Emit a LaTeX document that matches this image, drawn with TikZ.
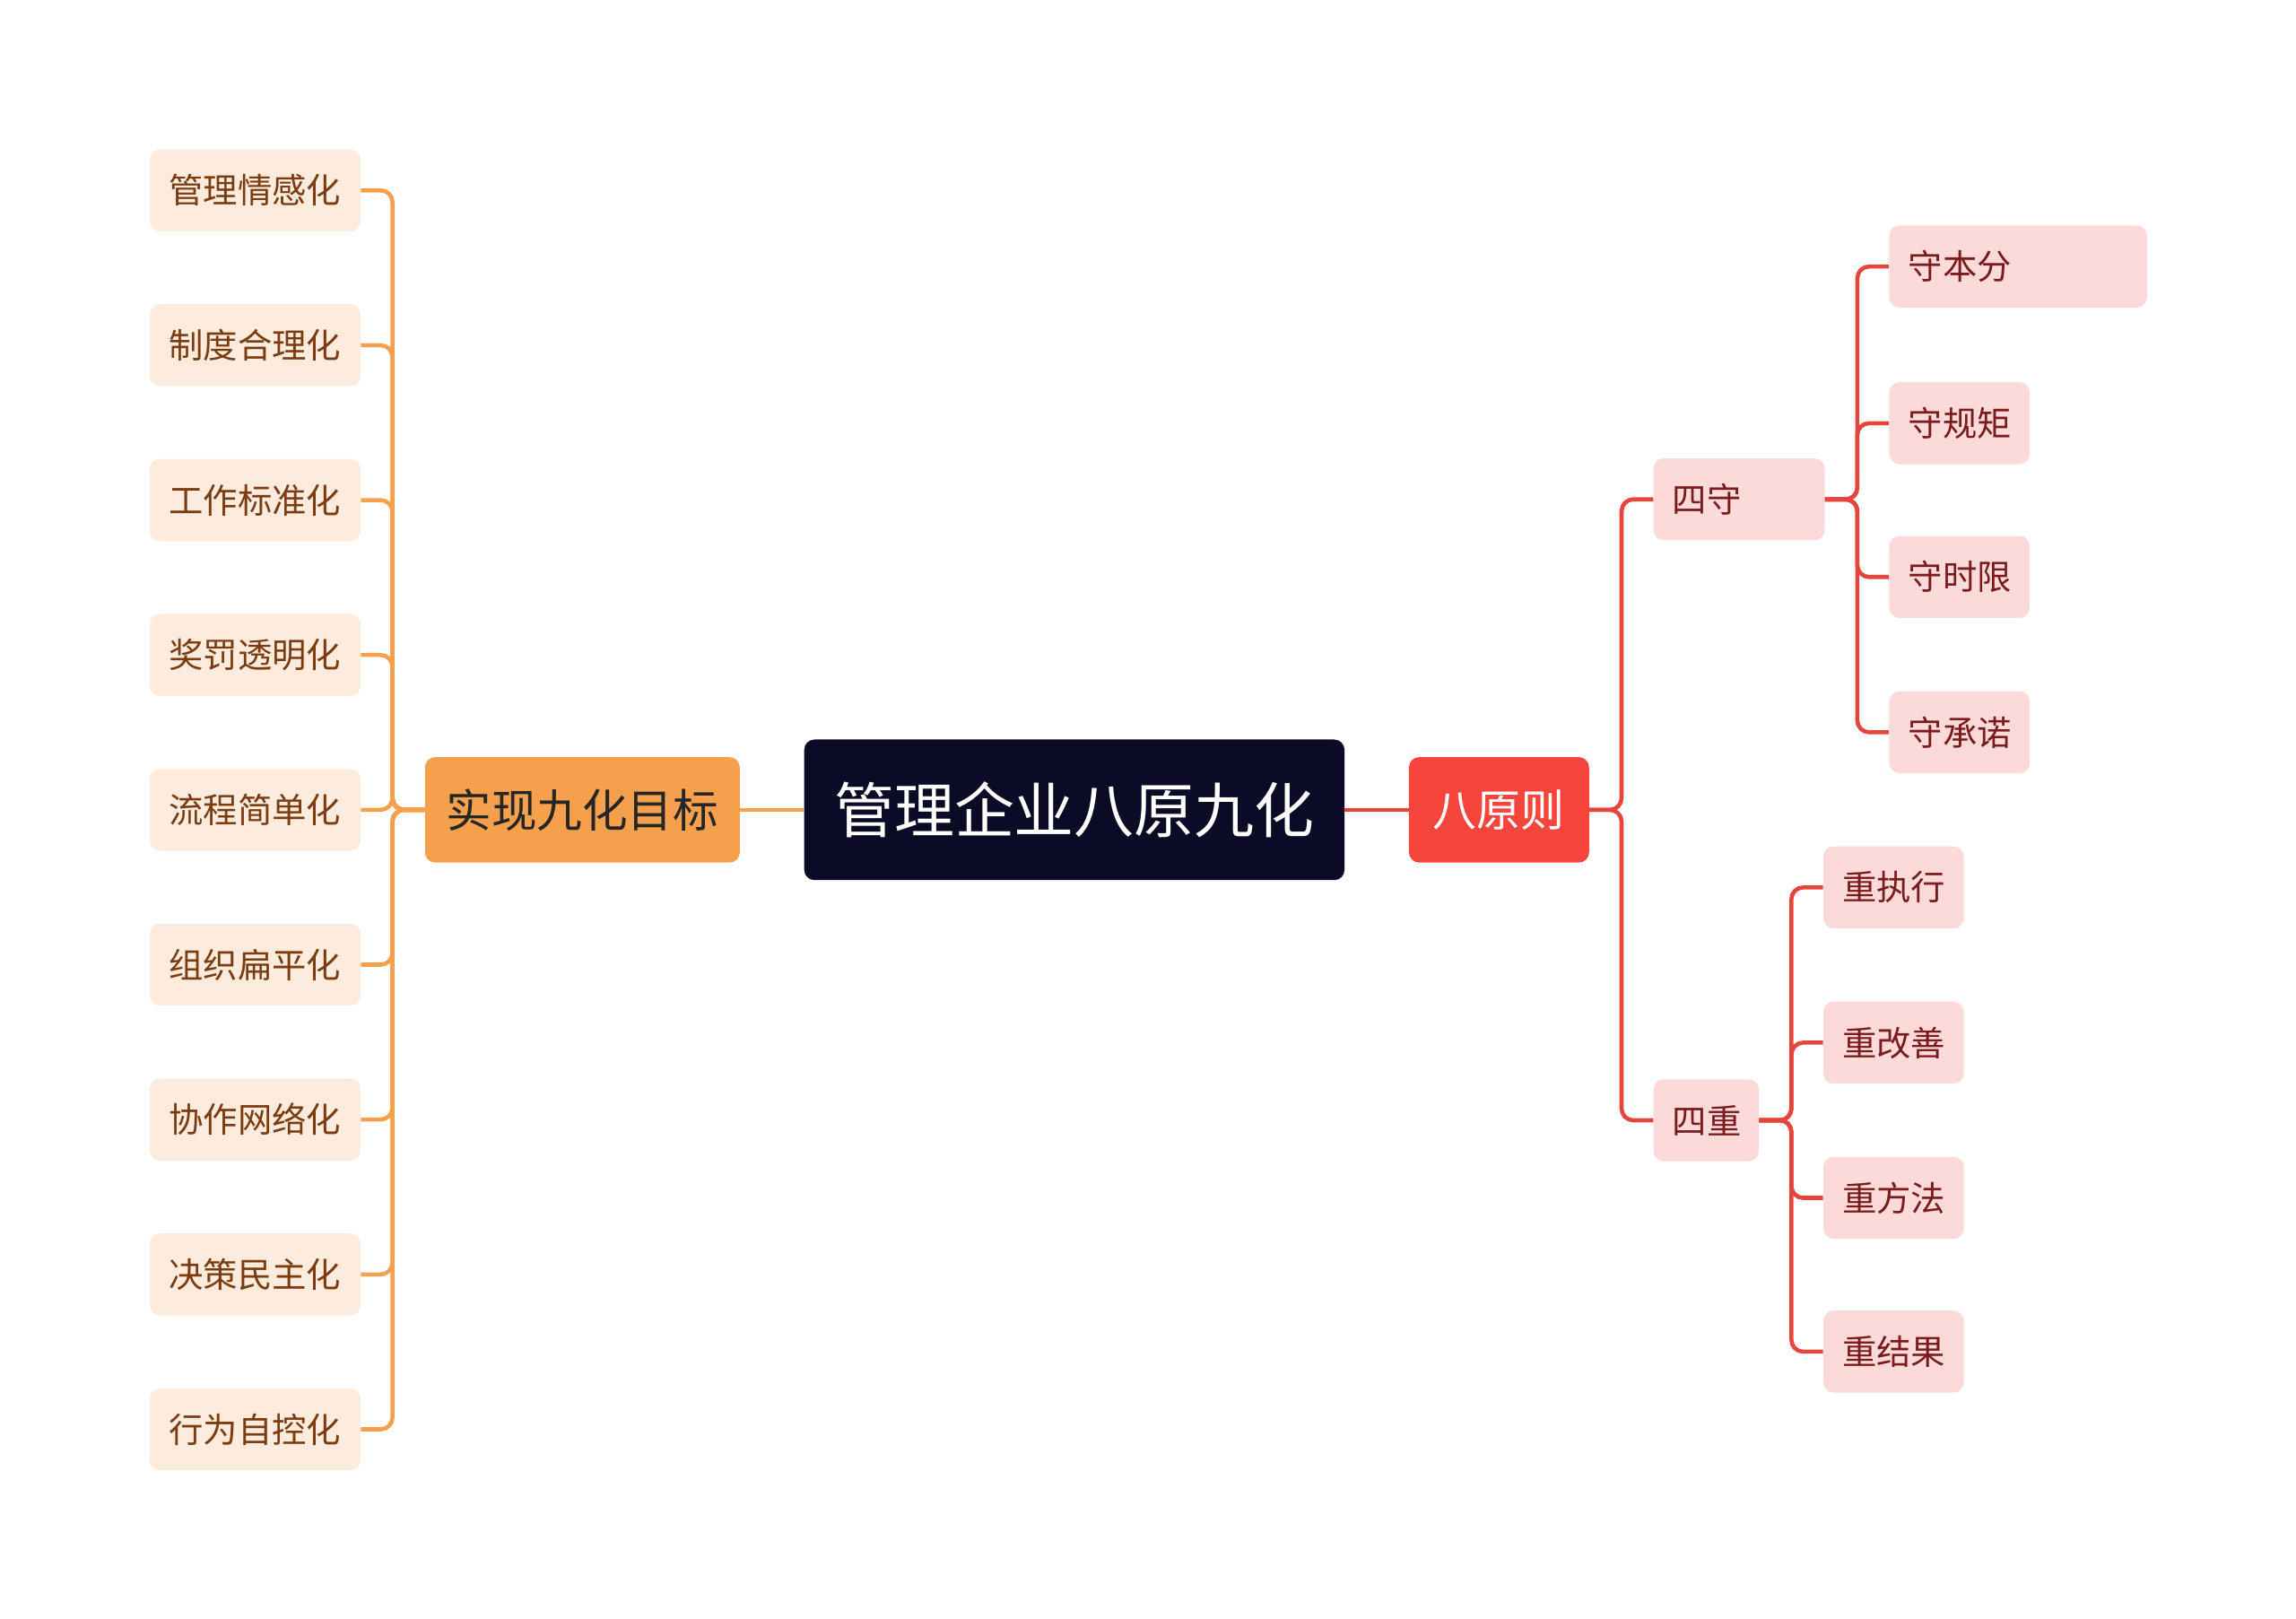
\documentclass[tikz,border=0pt]{standalone}
\usepackage{fontspec}
\setmainfont{Noto Sans CJK SC}
\definecolor{navy}{HTML}{0B0B26}
\definecolor{org}{HTML}{F5A04C}
\definecolor{orgl}{HTML}{FDEBDD}
\definecolor{orgt}{HTML}{7A3C10}
\definecolor{rd}{HTML}{F5453D}
\definecolor{rdl}{HTML}{FDDADA}
\definecolor{rdt}{HTML}{7A1C1C}
\definecolor{rdline}{HTML}{E5453D}
\begin{document}
\begin{tikzpicture}[x=1pt,y=-1pt,
 base/.style={rounded corners=7pt,inner sep=0pt,anchor=west,minimum height=56pt},
 leafL/.style={base,fill=orgl,text=orgt,font=\fontsize{23.5}{26}\selectfont,minimum width=144pt},
 leafR/.style={base,fill=rdl,text=rdt,font=\fontsize{23.5}{26}\selectfont,text width=#1-26pt,align=left,minimum width=#1,inner xsep=13pt},
 lo/.style={draw=org,line width=2.8pt,rounded corners=8pt},
 lr/.style={draw=rdline,line width=2.8pt,rounded corners=8pt}]
\useasboundingbox (0,0) rectangle (1568,1105);
\node[base,fill=navy,text=white,minimum width=369pt,minimum height=96pt,font=\fontsize{41}{44}\selectfont] (root) at (549,553) {管理企业八原九化};
\node[base,fill=org,text=black!85,minimum width=215pt,minimum height=72pt,font=\fontsize{31}{34}\selectfont] (L) at (290,553) {实现九化目标};
\node[base,fill=rd,text=white,minimum width=123pt,minimum height=72pt,font=\fontsize{30}{33}\selectfont] (R) at (962,553) {八原则};
\draw[lo] (root.west) -- (L.east);
\draw[lr] (root.east) -- (R.east-|R.west);
\foreach \t [count=\i] in {管理情感化,制度合理化,工作标准化,奖罚透明化,流程简单化,组织扁平化,协作网络化,决策民主化,行为自控化}{
 \node[leafL] (l\i) at (102,{130+105.75*(\i-1)}) {\t};
 \draw[lo] (L.west) -- ++(-22,0) |- (l\i.east);
}
\node[leafR=117pt] (s) at (1129,341) {四守};
\node[leafR=72pt] (z) at (1129,765) {四重};
\draw[lr] (R.east) -- ++(22,0) |- (s.west);
\draw[lr] (R.east) -- ++(22,0) |- (z.west);
\node[leafR=176pt] (s1) at (1290,182) {守本分};
\node[leafR=96pt] (s2) at (1290,289) {守规矩};
\node[leafR=96pt] (s3) at (1290,394) {守时限};
\node[leafR=96pt] (s4) at (1290,500) {守承诺};
\foreach \i in {1,...,4}{\draw[lr] (s.east) -- ++(22,0) |- (s\i.west);}
\node[leafR=96pt] (z1) at (1245,606) {重执行};
\node[leafR=96pt] (z2) at (1245,712) {重改善};
\node[leafR=96pt] (z3) at (1245,818) {重方法};
\node[leafR=96pt] (z4) at (1245,923) {重结果};
\foreach \i in {1,...,4}{\draw[lr] (z.east) -- ++(22,0) |- (z\i.west);}
\end{tikzpicture}
\end{document}
